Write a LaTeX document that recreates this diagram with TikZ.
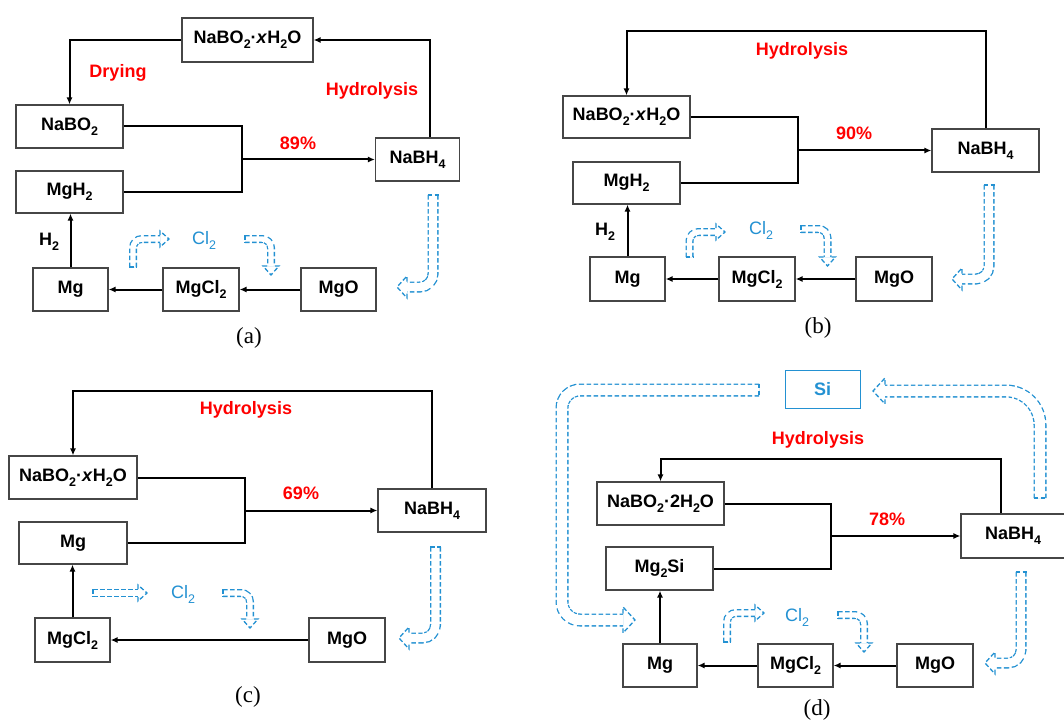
\documentclass[tikz,border=0pt]{standalone}
\usepackage{fontspec}
\setmainfont{Liberation Sans}
\newfontfamily\serifcap{Liberation Serif}
\usetikzlibrary{arrows.meta,calc}
\definecolor{hblue}{RGB}{35,145,210}
\definecolor{boxgray}{RGB}{70,70,70}
\definecolor{hred}{RGB}{255,0,0}
\newcommand\chsub[1]{\raisebox{-0.28em}{\fontsize{12.5pt}{12.5pt}\selectfont #1}}
\tikzset{
  box/.style={draw=boxgray, line width=1.2pt, fill=white, inner sep=0pt,
    font=\fontsize{18pt}{20pt}\selectfont\bfseries},
  lab/.style={inner sep=0pt, font=\fontsize{18pt}{20pt}\selectfont\bfseries},
  redlab/.style={lab, text=hred},
  bluelab/.style={lab, text=hblue, font=\fontsize{18pt}{20pt}\selectfont},
  caplab/.style={inner sep=0pt, font=\fontsize{23pt}{25pt}\serifcap},
  conn/.style={line width=2pt, black},
  arr/.style={conn, -{Latex[length=7pt,width=6pt]}},
  hdash/.style={dash pattern=on 4.5pt off 2.5pt},
  hshaft/.style={draw=white, line width=#1,
    preaction={draw=hblue, line width=#1+2.6pt, hdash}},
  hline/.style={draw=hblue, line width=1.3pt, hdash},
}
% heads: tip x, tip y, half shaft, half head, length
\newcommand\headR[5]{\draw[hline] (#1-#5,#2-#3) -- (#1-#5,#2-#4) -- (#1,#2) -- (#1-#5,#2+#4) -- (#1-#5,#2+#3);}
\newcommand\headL[5]{\draw[hline] (#1+#5,#2-#3) -- (#1+#5,#2-#4) -- (#1,#2) -- (#1+#5,#2+#4) -- (#1+#5,#2+#3);}
\newcommand\headD[5]{\draw[hline] (#1-#3,#2-#5) -- (#1-#4,#2-#5) -- (#1,#2) -- (#1+#4,#2-#5) -- (#1+#3,#2-#5);}
% tail caps
\newcommand\tailV[3]{\draw[hline] (#1-#3,#2) -- (#1+#3,#2);}
\newcommand\tailH[3]{\draw[hline] (#1,#2-#3) -- (#1,#2+#3);}
\begin{document}
\begin{tikzpicture}[x=1pt,y=-1pt]
\useasboundingbox (0,0) rectangle (1064,722);
\fill[white] (0,0) rectangle (1064,722);

%%%%%%%%%%%%%%%% (a)
\node[box, minimum width=131pt, minimum height=44pt] (aXH) at (247.5,40) {NaBO\chsub{2}·\textit{x}H\chsub{2}O};
\node[box, minimum width=107pt, minimum height=43pt] (aNaBO) at (69.5,126.5) {NaBO\chsub{2}};
\node[box, minimum width=107pt, minimum height=42pt] (aMgH) at (69.5,192) {MgH\chsub{2}};
\node[box, minimum width=84pt, minimum height=43pt] (aNaBH) at (417.5,159.5) {NaBH\chsub{4}};
\node[box, minimum width=75pt, minimum height=43pt] (aMg) at (70.5,289.5) {Mg};
\node[box, minimum width=76pt, minimum height=43pt] (aMgCl) at (201,289.5) {MgCl\chsub{2}};
\node[box, minimum width=75pt, minimum height=43pt] (aMgO) at (338.5,289.5) {MgO};
\node[redlab] (aDry) at (118,73) {Drying};
\node[redlab] (aHyd) at (372,91) {Hydrolysis};
\node[redlab] (aPct) at (298,143) {89\%};
\node[lab] (aH2) at (49,242) {H\chsub{2}};
\node[bluelab] (aCl) at (204,240) {Cl\chsub{2}};
\node[caplab] (aCap) at (249,338) {(a)};
\coordinate (aJ) at (242,159.5);
\draw[arr] ([xshift=12.5pt]aNaBH.north) |- (aXH.east);
\draw[arr] (aXH.west) -| (aNaBO.north);
\draw[conn] (aNaBO.east) -| (aJ) |- (aMgH.east);
\draw[arr] (aJ) -- (aNaBH.west);
\draw[arr] (aMgO.west) -- (aMgCl.east);
\draw[arr] (aMgCl.west) -- (aMg.east);
\draw[arr] (aMg.north) -- (aMg.north |- aMgH.south);
\draw[hshaft=5.4pt, rounded corners=9pt] (133,267) -- (133,239) -- (160,239);
\tailV{133}{267}{4}\headR{169}{239}{4}{8}{9}
\draw[hshaft=5.4pt, rounded corners=9pt] (245,239) -- (271,239) -- (271,266);
\tailH{245}{239}{4}\headD{271}{275}{4}{8}{9}
\draw[hshaft=8.4pt, rounded corners=13pt] (433,195) -- (433,287) -- (407,287);
\tailV{433}{195}{5.5}\headL{397}{287}{5.5}{11}{10}

%%%%%%%%%%%%%%%% (b)
\node[box, minimum width=127pt, minimum height=42pt] (bXH) at (626.5,117) {NaBO\chsub{2}·\textit{x}H\chsub{2}O};
\node[box, minimum width=107pt, minimum height=42pt] (bMgH) at (626.5,183) {MgH\chsub{2}};
\node[box, minimum width=107pt, minimum height=43pt] (bNaBH) at (985.5,150.5) {NaBH\chsub{4}};
\node[box, minimum width=75pt, minimum height=44pt] (bMg) at (627.5,279) {Mg};
\node[box, minimum width=76pt, minimum height=44pt] (bMgCl) at (757,279) {MgCl\chsub{2}};
\node[box, minimum width=76pt, minimum height=44pt] (bMgO) at (894,279) {MgO};
\node[redlab] (bHyd) at (802,51) {Hydrolysis};
\node[redlab] (bPct) at (854,133) {90\%};
\node[lab] (bH2) at (605,232) {H\chsub{2}};
\node[bluelab] (bCl) at (761,230) {Cl\chsub{2}};
\node[caplab] (bCap) at (818,328) {(b)};
\coordinate (bTop) at (800,31);
\coordinate (bJ) at (798,150.5);
\draw[arr] (bNaBH.north) |- (bTop) -| (bXH.north);
\draw[conn] (bXH.east) -| (bJ) |- (bMgH.east);
\draw[arr] (bJ) -- (bNaBH.west);
\draw[arr] (bMgO.west) -- (bMgCl.east);
\draw[arr] (bMgCl.west) -- (bMg.east);
\draw[arr] (bMg.north) -- (bMg.north |- bMgH.south);
\draw[hshaft=5.4pt, rounded corners=9pt] (689.5,257) -- (689.5,232) -- (716,232);
\tailV{689.5}{257}{4}\headR{725}{232}{4}{8}{9}
\draw[hshaft=5.4pt, rounded corners=9pt] (801,229) -- (827.5,229) -- (827.5,257);
\tailH{801}{229}{4}\headD{827.5}{266}{4}{8}{9}
\draw[hshaft=8.4pt, rounded corners=13pt] (989,185) -- (989,279) -- (962,279);
\tailV{989}{185}{5.5}\headL{952}{279}{5.5}{11}{10}

%%%%%%%%%%%%%%%% (c)
\node[box, minimum width=128pt, minimum height=43pt] (cXH) at (73,477.5) {NaBO\chsub{2}·\textit{x}H\chsub{2}O};
\node[box, minimum width=108pt, minimum height=42pt] (cMg) at (73,543) {Mg};
\node[box, minimum width=108pt, minimum height=43pt] (cNaBH) at (432,510.5) {NaBH\chsub{4}};
\node[box, minimum width=75pt, minimum height=44pt] (cMgCl) at (72.5,640) {MgCl\chsub{2}};
\node[box, minimum width=76pt, minimum height=44pt] (cMgO) at (347,640) {MgO};
\node[redlab] (cHyd) at (246,410) {Hydrolysis};
\node[redlab] (cPct) at (301,493) {69\%};
\node[bluelab] (cCl) at (183,594) {Cl\chsub{2}};
\node[caplab] (cCap) at (248,697) {(c)};
\coordinate (cTop) at (250,391);
\coordinate (cJ) at (245,510.5);
\draw[arr] (cNaBH.north) |- (cTop) -| (cXH.north);
\draw[conn] (cXH.east) -| (cJ) |- (cMg.east);
\draw[arr] (cJ) -- (cNaBH.west);
\draw[arr] (cMgO.west) -- (cMgCl.east);
\draw[arr] (cMgCl.north) -- (cMgCl.north |- cMg.south);
\draw[hshaft=5.4pt] (93,593) -- (138,593);
\tailH{93}{593}{4}\headR{147}{593}{4}{8}{9}
\draw[hshaft=5.4pt, rounded corners=9pt] (223,593) -- (250,593) -- (250,619);
\tailH{223}{593}{4}\headD{250}{628}{4}{8}{9}
\draw[hshaft=8.4pt, rounded corners=13pt] (435.5,547) -- (435.5,638) -- (409,638);
\tailV{435.5}{547}{5.5}\headL{399}{638}{5.5}{11}{10}

%%%%%%%%%%%%%%%% (d)
\node[box, draw=hblue, line width=0.9pt, text=hblue, minimum width=75pt, minimum height=38pt] (dSi) at (822.5,389) {Si};
\node[box, minimum width=127pt, minimum height=43pt] (dXH) at (660.5,503.5) {NaBO\chsub{2}·2H\chsub{2}O};
\node[box, minimum width=107pt, minimum height=43pt] (dMgSi) at (659.5,568.5) {Mg\chsub{2}Si};
\node[box, minimum width=104pt, minimum height=44pt] (dNaBH) at (1013,536) {NaBH\chsub{4}};
\node[box, minimum width=74pt, minimum height=43pt] (dMg) at (660,665.5) {Mg};
\node[box, minimum width=75pt, minimum height=43pt] (dMgCl) at (795.5,665.5) {MgCl\chsub{2}};
\node[box, minimum width=76pt, minimum height=43pt] (dMgO) at (935,665.5) {MgO};
\node[redlab] (dHyd) at (818,440) {Hydrolysis};
\node[redlab] (dPct) at (887,519) {78\%};
\node[bluelab] (dCl) at (797,617) {Cl\chsub{2}};
\node[caplab] (dCap) at (817,710) {(d)};
\coordinate (dTop) at (830,459);
\coordinate (dJ) at (831,536);
\draw[arr] ([xshift=-12pt]dNaBH.north) |- (dTop) -| (dXH.north);
\draw[conn] (dXH.east) -| (dJ) |- (dMgSi.east);
\draw[arr] (dJ) -- (dNaBH.west);
\draw[arr] (dMgO.west) -- (dMgCl.east);
\draw[arr] (dMgCl.west) -- (dMg.east);
\draw[arr] (dMg.north) -- (dMg.north |- dMgSi.south);
\draw[hshaft=5.4pt, rounded corners=9pt] (727,642) -- (727,613) -- (755,613);
\tailV{727}{642}{4}\headR{764}{613}{4}{8}{9}
\draw[hshaft=5.4pt, rounded corners=9pt] (838,615) -- (864,615) -- (864,643);
\tailH{838}{615}{4}\headD{864}{652}{4}{8}{9}
\draw[hshaft=8.4pt, rounded corners=13pt] (1021,572) -- (1021,663) -- (995,663);
\tailV{1021}{572}{5.5}\headL{985}{663}{5.5}{11}{10}
\draw[hshaft=10.4pt, rounded corners=18pt] (759,390) -- (562,390) -- (562,620) -- (623,620);
\tailH{759}{390}{6.5}\headR{635}{620}{6.5}{13}{12}
\draw[hshaft=10.4pt, rounded corners=34pt] (1040,498) -- (1040,391) -- (885,391);
\tailV{1040}{498}{6.5}\headL{873}{391}{6.5}{13}{12}
\end{tikzpicture}
\end{document}
